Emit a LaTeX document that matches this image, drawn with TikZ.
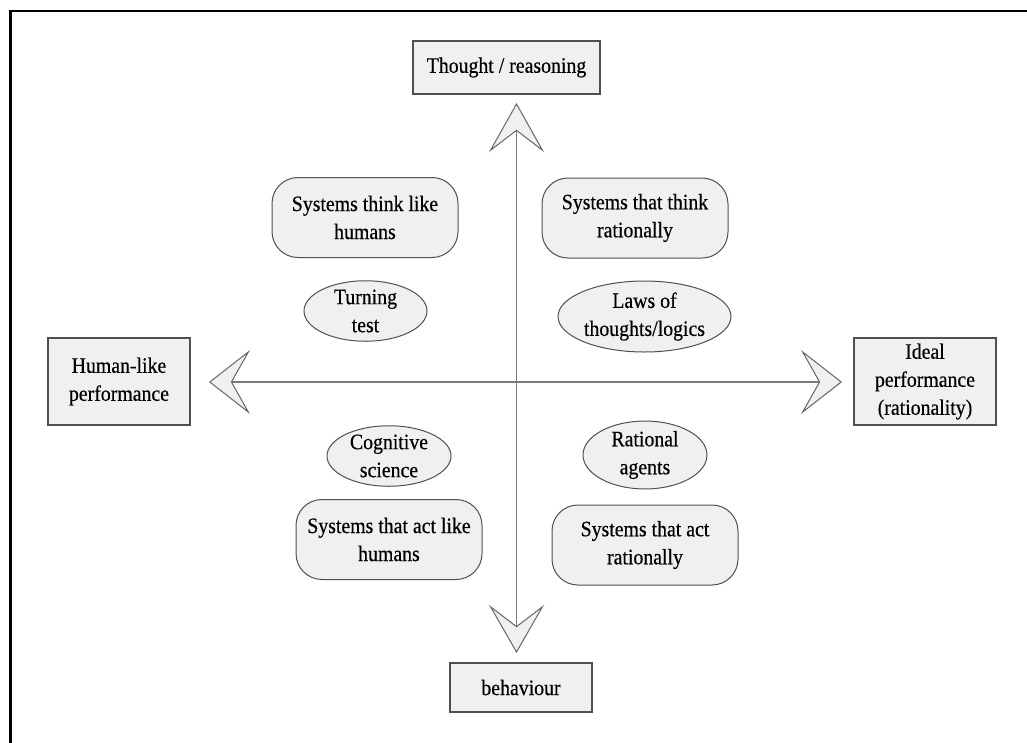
\documentclass[tikz,border=0pt]{standalone}
\usepackage{fontspec}
\setmainfont{Liberation Serif}
\newfontfamily\diagfont[FakeStretch=0.9,FakeBold=0.4]{Liberation Serif}
\usetikzlibrary{arrows.meta,shapes.geometric}
\definecolor{boxfill}{HTML}{F0F0F0}
\definecolor{edgec}{HTML}{505050}
\definecolor{axisc}{HTML}{7A7A7A}
\definecolor{tipc}{HTML}{666666}
\begin{document}
\begin{tikzpicture}[x=1pt,y=-1pt,
  every node/.style={font=\diagfont\fontsize{22}{28}\selectfont, text=black, align=center},
  sqbox/.style={draw=edgec, fill=boxfill, line width=1.2pt, inner sep=0pt},
  rbox/.style={draw=edgec, fill=boxfill, line width=1pt, rounded corners=26pt, inner sep=0pt, minimum width=186pt, minimum height=80pt},
  ebox/.style={ellipse, draw=edgec, fill=boxfill, line width=1pt, inner sep=0pt},
  vaxis/.style={draw=axisc, line width=1.5pt,
    {Stealth[length=49pt, width=55pt, inset=21pt, fill=boxfill, color=tipc, line width=1pt]}-{Stealth[length=48pt, width=55pt, inset=21pt, fill=boxfill, color=tipc, line width=1pt]}},
  haxis/.style={draw=axisc, line width=1.5pt,
    {Stealth[length=41pt, width=64pt, inset=18pt, fill=boxfill, color=tipc, line width=1pt]}-{Stealth[length=41pt, width=64pt, inset=18pt, fill=boxfill, color=tipc, line width=1pt]}}
]
\useasboundingbox (0,0) rectangle (1027,742);
\fill[white] (0,0) rectangle (1027,742);
\draw[line width=2.2pt, black] (10.5,760) -- (10.5,11) -- (1040,11);

% axes
\coordinate (vt) at (516.5,103);
\coordinate (vb) at (516.5,653);
\coordinate (hl) at (209,382);
\coordinate (hr) at (842,382);
\draw[haxis] (hl) -- (hr);
\draw[vaxis] (vt) -- (vb);

% end boxes
\node[sqbox, minimum width=187pt, minimum height=53pt] (thought) at (506.5,67.5) {Thought / reasoning};
\node[sqbox, minimum width=142pt, minimum height=87pt] (human) at (119,381.5) {Human-like\\performance};
\node[sqbox, minimum width=142pt, minimum height=87pt] (ideal) at (925,381.5) {Ideal\\performance\\(rationality)};
\node[sqbox, minimum width=142pt, minimum height=49pt] (behav) at (521,687.5) {behaviour};

% quadrant boxes
\node[rbox] (thinkh) at (365,217.5) {Systems think like\\humans};
\node[rbox] (thinkr) at (635,218) {Systems that think\\rationally};
\node[rbox] (acth) at (389,539.5) {Systems that act like\\humans};
\node[rbox] (actr) at (645,545) {Systems that act\\rationally};

% ellipses
\node[ebox, minimum width=123pt, minimum height=60pt] (turing) at (365.5,311) {Turning\\test};
\node[ebox, minimum width=173pt, minimum height=71pt] (laws) at (644.5,316.5) {Laws of\\thoughts/logics};
\node[ebox, minimum width=124pt, minimum height=58pt] (cog) at (389,456) {Cognitive\\science};
\node[ebox, minimum width=124pt, minimum height=60pt] (ragents) at (645,455) {Rational\\agents};
\end{tikzpicture}
\end{document}
